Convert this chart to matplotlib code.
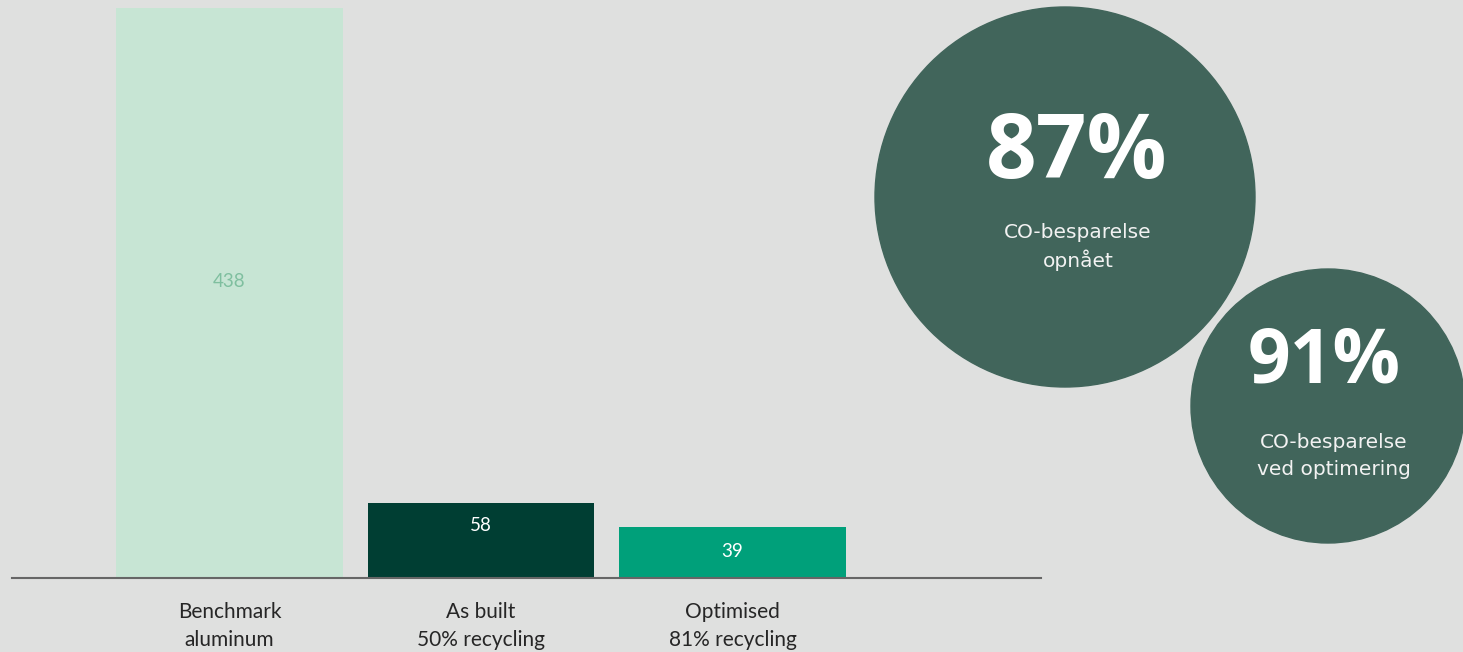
import matplotlib
matplotlib.use("Agg")
import matplotlib.pyplot as plt
from matplotlib.patches import Circle

# ---- data ----
categories = ["Benchmark\naluminum", "As built\n50% recycling", "Optimised\n81% recycling"]
values = [438, 58, 39]
value_labels = ["438", "58", "39"]
big_stat = "87%"
big_caption = "CO-besparelse\nopnået"
small_stat = "91%"
small_caption = "CO-besparelse\nved optimering"

# ---- style ----
bg = "#dfe0df"
bar_colors = ["#c7e5d4", "#003e33", "#00a07a"]
label_colors = ["#7fbf9f", "#ffffff", "#ffffff"]
label_frac = [0.52, 0.70, 0.52]
circle_color = "#41655b"

W, H = 1463, 652
fig = plt.figure(figsize=(W / 100, H / 100), dpi=100, facecolor=bg)

# bar axes: x from px 12 to 1041, y from px 8 (top) to 578 (baseline)
ax = fig.add_axes([12 / W, (H - 578) / H, (1041 - 12) / W, (578 - 8) / H])
ax.set_facecolor(bg)
x = list(range(len(values)))
ax.bar(x, values, width=0.9, color=bar_colors, zorder=2)
ax.set_xlim(-0.865, 3.227)
ax.set_ylim(0, max(values))
for s in ["top", "right", "left"]:
    ax.spines[s].set_visible(False)
ax.spines["bottom"].set_color("#666666")
ax.spines["bottom"].set_linewidth(1.5)
ax.set_yticks([])
ax.set_xticks(x)
ax.set_xticklabels(categories, fontsize=15, color="#262626", family="Lato", linespacing=1.5)
ax.tick_params(axis="x", length=0, pad=17)
for xi, v, lab, c, f in zip(x, values, value_labels, label_colors, label_frac):
    ax.text(xi, v * f, lab, ha="center", va="center", fontsize=13.5, color=c, family="Lato")

# overlay for circles
ov = fig.add_axes([0, 0, 1, 1], facecolor="none")
ov.set_xlim(0, W)
ov.set_ylim(H, 0)
ov.axis("off")
ov.add_patch(Circle((1065, 197), 190, color=circle_color, zorder=1))
ov.add_patch(Circle((1328, 406), 137, color=circle_color, zorder=1))
ov.text(1077, 155, big_stat, ha="center", va="center", fontsize=64, fontweight="bold",
        color="white", family="Open Sans")
ov.text(1078, 247, big_caption, ha="center", va="center", fontsize=14.5,
        color="#f2f2f2", family="DejaVu Sans", linespacing=1.45)
ov.text(1324, 363, small_stat, ha="center", va="center", fontsize=54, fontweight="bold",
        color="white", family="Open Sans")
ov.text(1334, 456, small_caption, ha="center", va="center", fontsize=14.5,
        color="#f2f2f2", family="DejaVu Sans", linespacing=1.55)

fig.savefig("out.png", dpi=100, facecolor=bg)
